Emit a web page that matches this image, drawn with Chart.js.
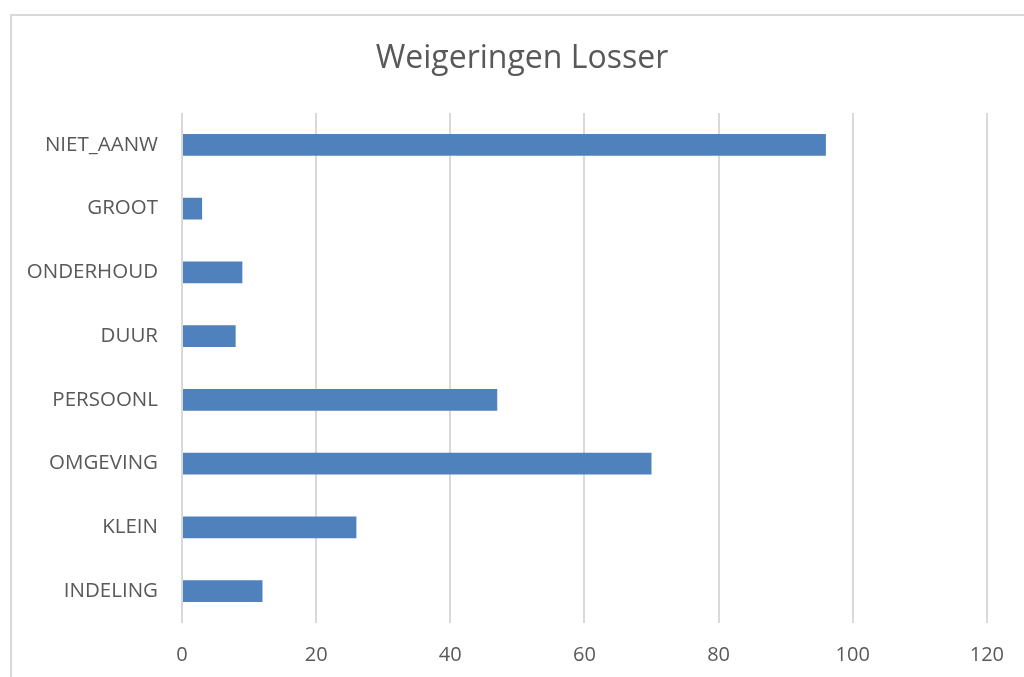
<!DOCTYPE html>
<html>
<head>
<meta charset="utf-8">
<script src="https://cdn.jsdelivr.net/npm/chart.js@4/dist/chart.umd.min.js"></script>
<style>
html,body{margin:0;padding:0;background:#fff;overflow:hidden;}
#frame{position:absolute;left:10px;top:14px;width:1100px;height:760px;border:2px solid #d9d9d9;box-sizing:border-box;}
#wrap{position:absolute;left:0;top:0;width:1024px;height:677px;}
</style>
</head>
<body>
<div id="frame"></div>
<div id="wrap"><canvas id="c" width="1024" height="677"></canvas></div>
<script>
const categories = ["NIET_AANW","GROOT","ONDERHOUD","DUUR","PERSOONL","OMGEVING","KLEIN","INDELING"];
const values = [96, 3, 9, 8, 47, 70, 26, 12];
const xTicks = [0, 20, 40, 60, 80, 100, 120];
const titleText = "Weigeringen Losser";

const FONT = "'Open Sans', sans-serif";

const titlePlugin = {
  id: 'centerTitle',
  afterDraw(chart) {
    const ctx = chart.ctx;
    ctx.save();
    ctx.font = "32px " + FONT;
    ctx.fillStyle = '#595959';
    ctx.textAlign = 'center';
    ctx.textBaseline = 'middle';
    ctx.fillText(titleText, 522, 59);
    ctx.restore();
  }
};

new Chart(document.getElementById('c'), {
  type: 'bar',
  data: {
    labels: categories,
    datasets: [{
      data: values,
      backgroundColor: '#4f81bd',
      categoryPercentage: 1,
      barPercentage: 0.345
    }]
  },
  options: {
    indexAxis: 'y',
    responsive: false,
    animation: false,
    layout: { padding: { left: 0, right: 36, top: 113, bottom: 0 } },
    plugins: {
      legend: { display: false },
      tooltip: { enabled: false },
      title: { display: false }
    },
    scales: {
      x: {
        min: xTicks[0],
        max: xTicks[xTicks.length - 1],
        afterBuildTicks: (s) => { s.ticks = xTicks.map(v => ({ value: v })); },
        afterFit: (s) => { s.height = 54; },
        grid: { color: '#d9d9d9', lineWidth: 2, drawTicks: false },
        border: { display: false },
        ticks: { color: '#595959', font: { family: FONT, size: 20 }, padding: 20 }
      },
      y: {
        grid: { display: false },
        border: { display: false },
        afterFit: (s) => { s.width = 182; },
        ticks: { color: '#595959', font: { family: FONT, size: 20.5 }, padding: 16 }
      }
    }
  },
  plugins: [titlePlugin]
});
</script>
</body>
</html>
